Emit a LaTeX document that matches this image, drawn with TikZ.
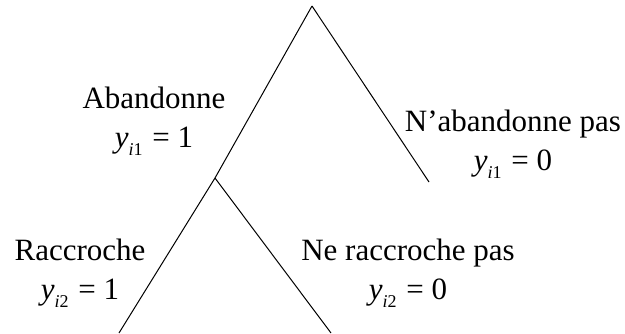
\documentclass[tikz,border=0pt]{standalone}
\usepackage{fontspec}
\setmainfont{Liberation Serif}
\usetikzlibrary{positioning}
\tikzset{
  branch/.style={line width=1pt,draw=black},
  choice/.style={align=center,inner sep=0pt,font=\fontsize{31}{39}\selectfont},
}
\newcommand{\yind}[2]{\textit{y}\raisebox{-8pt}{\fontsize{18}{18}\selectfont\textit{i}#1}\hspace{2pt} = #2}

\begin{document}
\begin{tikzpicture}[x=1pt,y=-1pt]
    \useasboundingbox (0,0) rectangle (625,333);

    % branch points
    \coordinate (root) at (312,6);
    \coordinate (mid) at (215,178);
    \coordinate (stay) at (429,182);
    \coordinate (hang) at (119,333);
    \coordinate (nohang) at (331,333);

    \draw[branch] (root) -- (mid);
    \draw[branch] (root) -- (stay);
    \draw[branch] (mid) -- (hang);
    \draw[branch] (mid) -- (nohang);

    \node[choice] (aband) at (154,121) {Abandonne\\ \yind{1}{1}};
    \node[choice] (noaband) at (513,144) {N'abandonne pas\\ \yind{1}{0}};
    \node[choice] (racc) at (80,273) {Raccroche\\ \yind{2}{1}};
    \node[choice] (noracc) at (408,273) {Ne raccroche pas\\ \yind{2}{0}};
\end{tikzpicture}
\end{document}
